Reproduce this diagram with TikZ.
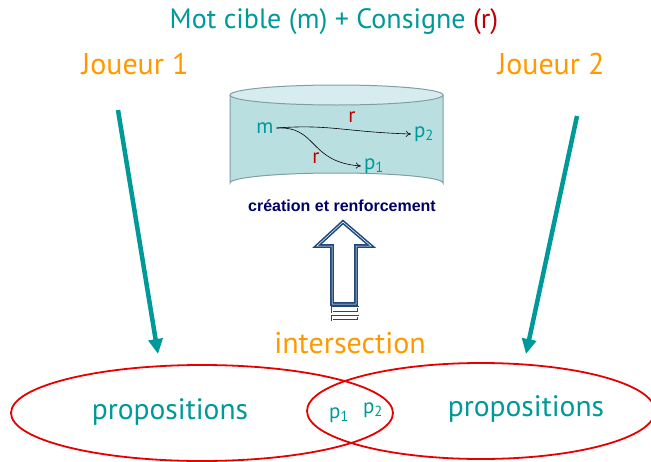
\documentclass[tikz,border=0pt]{standalone}
\usepackage{fontspec}
\setmainfont{PT Sans}
\setsansfont{Liberation Sans}
\usetikzlibrary{arrows.meta, positioning, calc, shapes.geometric}
\definecolor{tealtxt}{RGB}{0,153,153}
\definecolor{redtxt}{RGB}{192,0,0}
\definecolor{orangetxt}{RGB}{255,153,0}
\definecolor{navytxt}{RGB}{0,0,102}
\definecolor{cylfill}{RGB}{185,223,225}
\definecolor{cyltop}{RGB}{214,236,238}
\definecolor{cylline}{RGB}{128,160,160}
\definecolor{hollowblue}{RGB}{31,73,125}
\definecolor{setred}{RGB}{230,0,0}
\tikzset{
    game/.style={x=1pt, y=-1pt, inner sep=0pt},
    bigtext/.style={font=\fontsize{29.5}{32}\selectfont, text=tealtxt},
    player/.style={font=\fontsize{30}{32}\selectfont, text=orangetxt},
    intext/.style={font=\fontsize{21}{23}\selectfont, text=tealtxt},
    reltext/.style={font=\fontsize{21}{23}\selectfont, text=redtxt},
    inarrow/.style={-{To[length=5pt,width=6pt]}, line width=0.6pt},
    playarrow/.style={-{Triangle[length=15pt,width=14pt]}, line width=4.5pt, draw=tealtxt},
    % the two sets of propositions
    propset/.style={ellipse, draw=setred, line width=1.8pt, inner sep=0pt},
}
\begin{document}
\begin{tikzpicture}[game]
    \useasboundingbox (0,0) rectangle (651,461);

    \node[bigtext, font=\fontsize{28}{30}\selectfont] (title) at (334,22) {Mot cible (m) + Consigne \textcolor{redtxt}{(r)}};
    \node[player] (j1) at (135,64) {Joueur 1};
    \node[player] (j2) at (551,64) {Joueur 2};

    % the memory as a cylinder
    \draw[draw=cylline, fill=cylfill, line width=1pt] (230,95) -- (230,183)
        arc[start angle=180, end angle=360, x radius=106.5, y radius=10] -- (443,95);
    \draw[draw=cylline, fill=cyltop, line width=1pt] (336.5,95) ellipse [x radius=106.5, y radius=10];

    \node[intext] (m)  at (265,128) {m};
    \node[intext] (p2) at (424,134) {p\textsubscript{2}};
    \node[intext] (p1) at (374,166) {p\textsubscript{1}};
    \node[reltext] (r2) at (352,117) {r};
    \node[reltext] (r1) at (316,158) {r};
    \draw[inarrow] ([xshift=3pt]m.east) .. controls (330,124) and (345,132) .. ([xshift=-3pt]p2.west);
    \draw[inarrow] ([xshift=3pt]m.east) .. controls (318,126) and (308,162) .. ([xshift=-3pt]p1.west);

    \node[font=\sffamily\bfseries\fontsize{16}{18}\selectfont, text=navytxt] (memo) at (342,206) {création et renforcement};

    % hollow arrow
    \draw[draw=hollowblue, line width=1.6pt, double=white, double distance=0.5pt]
        (343,222) -- (371,246) -- (356,246) -- (356,304) -- (332,304) -- (332,246) -- (317,246) -- cycle;
    \draw[draw=hollowblue, line width=1.2pt, double=white, double distance=0.5pt] (332,307) rectangle (358,312);
    \draw[draw=hollowblue, line width=1.2pt, double=white, double distance=0.5pt] (332,316) rectangle (358,320);

    \node[player] (inter) at (350,343) {intersection};

    \node[propset, minimum width=382pt, minimum height=96pt] (left)  at (202,413) {};
    \node[propset, minimum width=348pt, minimum height=96pt] (right) at (481,411) {};
    \node[bigtext] at (170,412) {propositions};
    \node[bigtext] at (526,409) {propositions};
    \node[intext] (q1) at (339,415) {p\textsubscript{1}};
    \node[intext] (q2) at (373,410) {p\textsubscript{2}};

    \coordinate (a1) at (118,110);
    \coordinate (b1) at (158,354);
    \coordinate (a2) at (577,116);
    \coordinate (b2) at (526,354);
    \draw[playarrow] (a1) -- (b1);
    \draw[playarrow] (a2) -- (b2);
\end{tikzpicture}
\end{document}
